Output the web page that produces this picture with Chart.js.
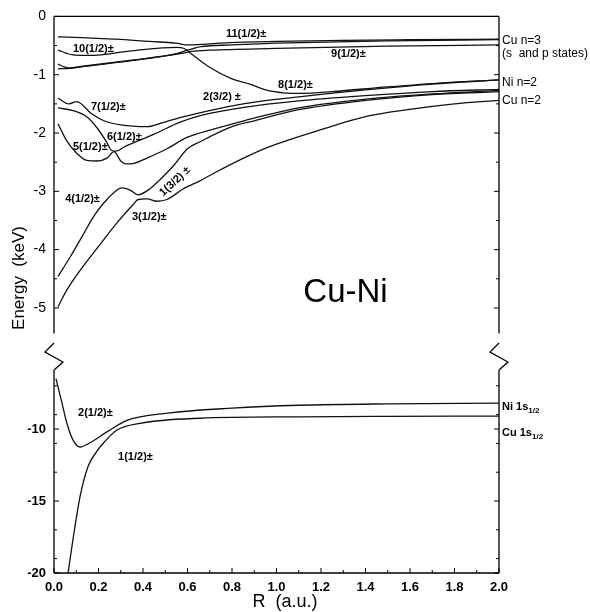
<!DOCTYPE html>
<html>
<head>
<meta charset="utf-8">
<script src="https://cdn.jsdelivr.net/npm/chart.js@4.4.1/dist/chart.umd.min.js"></script>
<style>
  html, body { margin: 0; padding: 0; background: #fff; }
  #wrap { position: relative; width: 590px; height: 612px; }
  #wrap canvas { position: absolute; left: 0; }
  #top { top: 0; }
  #bottom { top: 335px; }
</style>
</head>
<body>
<div id="wrap">
  <canvas id="top" width="590" height="350"></canvas>
  <canvas id="bottom" width="590" height="277"></canvas>
</div>
<script>
// curves, [R (a.u.), E (keV)]
const curve11 = [[0.018,-0.35],[0.15,-0.37],[0.28,-0.39],[0.43,-0.43],[0.55,-0.46],[0.60,-0.49],[0.66,-0.48],[0.79,-0.45],[1.0,-0.43],[1.3,-0.41],[1.6,-0.40],[2.0,-0.39]];
const curve10 = [[0.018,-0.58],[0.085,-0.66],[0.16,-0.67],[0.35,-0.59],[0.55,-0.53],[0.585,-0.55],[0.62,-0.65],[0.69,-0.85],[0.80,-1.07],[0.88,-1.16],[0.96,-1.27],[1.03,-1.31],[1.12,-1.32],[1.25,-1.29],[1.5,-1.21],[1.75,-1.14],[2.0,-1.09]];
const curve9a = [[0.018,-0.90],[0.07,-0.89],[0.13,-0.86],[0.35,-0.76],[0.58,-0.63],[0.62,-0.60],[0.70,-0.58],[1.0,-0.55],[1.5,-0.51],[2.0,-0.49]];
const curve9b = [[0.018,-0.82],[0.05,-0.87],[0.07,-0.885],[0.13,-0.855],[0.35,-0.75],[0.55,-0.64],[0.60,-0.58],[0.66,-0.52],[0.80,-0.49],[1.0,-0.46],[1.5,-0.42],[2.0,-0.40]];
const curve7 = [[0.018,-1.40],[0.067,-1.50],[0.103,-1.46],[0.166,-1.66],[0.225,-1.79],[0.30,-1.86],[0.42,-1.89],[0.49,-1.82],[0.57,-1.73],[0.67,-1.64],[0.85,-1.50],[1.1,-1.38],[1.4,-1.26],[1.7,-1.16],[2.0,-1.09]];
const curve6 = [[0.018,-1.57],[0.09,-1.62],[0.15,-1.73],[0.193,-1.91],[0.234,-2.14],[0.26,-2.30],[0.28,-2.31],[0.315,-2.24],[0.45,-2.02],[0.57,-1.81],[0.67,-1.69],[0.854,-1.56],[1.1,-1.45],[1.4,-1.36],[1.7,-1.29],[2.0,-1.25]];
const curve5 = [[0.018,-1.84],[0.058,-2.14],[0.103,-2.35],[0.148,-2.47],[0.193,-2.48],[0.238,-2.43],[0.27,-2.32],[0.30,-2.48],[0.324,-2.53],[0.36,-2.52],[0.418,-2.43],[0.508,-2.27],[0.60,-2.07],[0.72,-1.93],[0.854,-1.79],[1.1,-1.57],[1.4,-1.42],[1.7,-1.33],[2.0,-1.27]];
const curve4 = [[0.018,-4.46],[0.072,-4.13],[0.13,-3.75],[0.175,-3.45],[0.238,-3.14],[0.306,-2.94],[0.342,-2.98],[0.378,-3.06],[0.43,-2.96],[0.476,-2.80],[0.535,-2.57],[0.60,-2.27],[0.656,-2.15],[0.80,-1.89],[0.90,-1.79],[1.1,-1.60],[1.4,-1.44],[1.7,-1.34],[2.0,-1.29]];
const curve3 = [[0.018,-4.98],[0.058,-4.69],[0.13,-4.29],[0.207,-3.91],[0.283,-3.54],[0.355,-3.23],[0.378,-3.14],[0.418,-3.13],[0.463,-3.17],[0.508,-3.14],[0.58,-2.96],[0.656,-2.82],[0.733,-2.66],[0.836,-2.46],[0.957,-2.25],[1.21,-1.93],[1.4,-1.72],[1.59,-1.60],[1.8,-1.50],[2.0,-1.44]];

const curve2s = [[0.009,-6.5],[0.036,-8.2],[0.058,-9.6],[0.085,-10.75],[0.117,-11.25],[0.162,-10.95],[0.238,-10.2],[0.328,-9.4],[0.51,-8.9],[0.80,-8.55],[1.1,-8.35],[1.5,-8.25],[2.0,-8.2]];
const curve1s = [[0.063,-20],[0.085,-17.7],[0.117,-14.7],[0.153,-12.6],[0.19,-11.6],[0.207,-11.25],[0.283,-10.07],[0.387,-9.6],[0.656,-9.25],[1.1,-9.15],[1.5,-9.12],[2.0,-9.1]];

// ticks
const xTicks = [0, 0.2, 0.4, 0.6, 0.8, 1.0, 1.2, 1.4, 1.6, 1.8, 2.0];
const xMinor = [0.1, 0.3, 0.5, 0.7, 0.9, 1.1, 1.3, 1.5, 1.7, 1.9];
const topTicks = [0, -1, -2, -3, -4, -5];
const topMinor = [-0.5, -1.5, -2.5, -3.5, -4.5];
const lowTicks = [-10, -15, -20];
const lowMinor = [-7, -9, -11, -13, -17, -19];

// curve labels: text, R, E
const topLabels = [
  ["11(1/2)\u00b1", 0.773, -0.30],
  ["10(1/2)\u00b1", 0.085, -0.56],
  ["9(1/2)\u00b1", 1.245, -0.64],
  ["8(1/2)\u00b1", 1.007, -1.17],
  ["2(3/2) \u00b1", 0.67, -1.38],
  ["7(1/2)\u00b1", 0.166, -1.56],
  ["6(1/2)\u00b1", 0.238, -2.06],
  ["5(1/2)\u00b1", 0.085, -2.24],
  ["4(1/2)\u00b1", 0.05, -3.13],
  ["3(1/2)\u00b1", 0.35, -3.44]
];
const lowLabels = [
  ["2(1/2)\u00b1", 0.108, -8.89],
  ["1(1/2)\u00b1", 0.288, -11.94]
];
const topSide = [["Cu n=3", -0.41], ["(s  and p states)", -0.64], ["Ni n=2", -1.14], ["Cu n=2", -1.45]];
const lowSide = [["Ni 1s", -8.47], ["Cu 1s", -10.28]];

const pts = (arr) => arr.map(([x, y]) => ({ x, y }));
const line = (arr) => ({
  data: pts(arr),
  borderColor: "#111",
  borderWidth: 1.3,
  pointRadius: 0,
  fill: false,
  cubicInterpolationMode: "monotone"
});

const labelFont = "bold 11px 'Liberation Sans', Arial, sans-serif";

function drawTicks(ctx, a, list, len, yScale) {
  list.forEach((v) => {
    const py = yScale.getPixelForValue(v);
    ctx.moveTo(a.left, py); ctx.lineTo(a.left + len, py);
    ctx.moveTo(a.right, py); ctx.lineTo(a.right - len, py);
  });
}

function zigzag(ctx, x, yTop, yBot) {
  ctx.moveTo(x, yBot);
  ctx.lineTo(x + 9, yBot - 8);
  ctx.lineTo(x - 9, yBot - 18);
  ctx.lineTo(x, yTop);
}

const framePlugin = {
  id: "frame",
  afterDraw(chart, args, opts) {
    const { ctx, chartArea: a, scales } = chart;
    const xs = scales.x, ys = scales.y;
    ctx.save();
    ctx.strokeStyle = "#000";
    ctx.lineWidth = 1.3;
    ctx.beginPath();
    if (opts.top) { ctx.moveTo(a.left, a.top); ctx.lineTo(a.right, a.top); }
    if (opts.bottom) { ctx.moveTo(a.left, a.bottom); ctx.lineTo(a.right, a.bottom); }
    ctx.moveTo(a.left, a.top); ctx.lineTo(a.left, a.bottom);
    ctx.moveTo(a.right, a.top); ctx.lineTo(a.right, a.bottom);
    if (opts.zigzag) {
      zigzag(ctx, a.left, a.top - 27, a.top);
      zigzag(ctx, a.right, a.top - 27, a.top);
    }
    ctx.stroke();

    ctx.lineWidth = 1;
    ctx.beginPath();
    drawTicks(ctx, a, opts.major, 5, ys);
    drawTicks(ctx, a, opts.minor, 3, ys);
    if (opts.bottom) {
      xTicks.forEach((v) => { const px = xs.getPixelForValue(v); ctx.moveTo(px, a.bottom); ctx.lineTo(px, a.bottom - 5); });
      xMinor.forEach((v) => { const px = xs.getPixelForValue(v); ctx.moveTo(px, a.bottom); ctx.lineTo(px, a.bottom - 3); });
    }
    ctx.stroke();

    // curve labels
    ctx.fillStyle = "#000";
    ctx.font = labelFont;
    ctx.textBaseline = "middle";
    ctx.textAlign = "left";
    opts.labels.forEach(([t, r, e]) => ctx.fillText(t, xs.getPixelForValue(r), ys.getPixelForValue(e)));

    // side labels
    if (opts.sub) {
      opts.side.forEach(([t, e]) => {
        const py = ys.getPixelForValue(e);
        ctx.font = "bold 11px 'Liberation Sans', Arial, sans-serif";
        ctx.fillText(t, a.right + 3, py);
        const w = ctx.measureText(t).width;
        ctx.font = "bold 8px 'Liberation Sans', Arial, sans-serif";
        ctx.fillText("1/2", a.right + 3 + w, py + 4);
      });
    } else {
      ctx.font = "12px 'Liberation Sans', Arial, sans-serif";
      opts.side.forEach(([t, e]) => ctx.fillText(t, a.right + 3, ys.getPixelForValue(e)));
    }

    if (opts.extra) opts.extra(ctx, xs, ys, a);
    ctx.restore();
  }
};

const yAxis = (min, max, major, font) => ({
  type: "linear",
  min, max,
  grid: { display: false, drawTicks: false },
  border: { display: false },
  afterFit: (s) => { s.width = 54; },
  afterBuildTicks: (s) => { s.ticks = major.map((v) => ({ value: v })); },
  ticks: { padding: 8, color: "#000", font, callback: (v) => String(v) }
});

new Chart(document.getElementById("top"), {
  type: "line",
  data: { datasets: [curve11, curve10, curve9a, curve9b, curve7, curve6, curve5, curve4, curve3].map(line) },
  options: {
    responsive: false,
    animation: false,
    layout: { padding: { left: 0, right: 91, top: 12, bottom: 7 } },
    plugins: {
      legend: { display: false },
      tooltip: { enabled: false },
      frame: {
        top: true, major: topTicks, minor: topMinor, labels: topLabels, side: topSide,
        extra: (ctx, xs, ys) => {
          // rotated 1(3/2) label
          ctx.save();
          ctx.font = labelFont;
          ctx.textAlign = "center";
          ctx.translate(xs.getPixelForValue(0.544), ys.getPixelForValue(-2.83));
          ctx.rotate(-43 * Math.PI / 180);
          ctx.fillText("1(3/2) \u00b1", 0, 0);
          ctx.restore();
          // big system name
          ctx.font = "33px 'Liberation Sans', Arial, sans-serif";
          ctx.textAlign = "center";
          ctx.fillText("Cu-Ni", xs.getPixelForValue(1.31), ys.getPixelForValue(-4.74));
          // y title
          ctx.save();
          ctx.font = "17px 'Liberation Sans', Arial, sans-serif";
          ctx.translate(19, 278);
          ctx.rotate(-Math.PI / 2);
          ctx.fillText("Energy  (keV)", 0, 0);
          ctx.restore();
        }
      }
    },
    scales: {
      x: { type: "linear", min: 0, max: 2, display: false },
      y: yAxis(-5.44, 0, topTicks, { family: "'Liberation Sans', Arial, sans-serif", size: 14 })
    }
  },
  plugins: [framePlugin]
});

new Chart(document.getElementById("bottom"), {
  type: "line",
  data: { datasets: [curve2s, curve1s].map(line) },
  options: {
    responsive: false,
    animation: false,
    layout: { padding: { left: 0, right: 91, top: 35, bottom: 0 } },
    plugins: {
      legend: { display: false },
      tooltip: { enabled: false },
      frame: {
        bottom: true, zigzag: true, sub: true, major: lowTicks, minor: lowMinor, labels: lowLabels, side: lowSide,
        extra: (ctx, xs, ys, a) => {
          ctx.font = "18px 'Liberation Sans', Arial, sans-serif";
          ctx.textAlign = "center";
          ctx.fillText("R  (a.u.)", 285, a.bottom + 29);
        }
      }
    },
    scales: {
      x: {
        type: "linear", min: 0, max: 2,
        grid: { display: false, drawTicks: false },
        border: { display: false },
        afterFit: (s) => { s.height = 39; },
        afterBuildTicks: (s) => { s.ticks = xTicks.map((v) => ({ value: v })); },
        ticks: { padding: 7, maxRotation: 0, color: "#000", font: { family: "'Liberation Sans', Arial, sans-serif", size: 13, weight: "bold" }, callback: (v) => v.toFixed(1) }
      },
      y: yAxis(-20, -5.9, lowTicks, { family: "'Liberation Sans', Arial, sans-serif", size: 13, weight: "bold" })
    }
  },
  plugins: [framePlugin]
});
</script>
</body>
</html>
